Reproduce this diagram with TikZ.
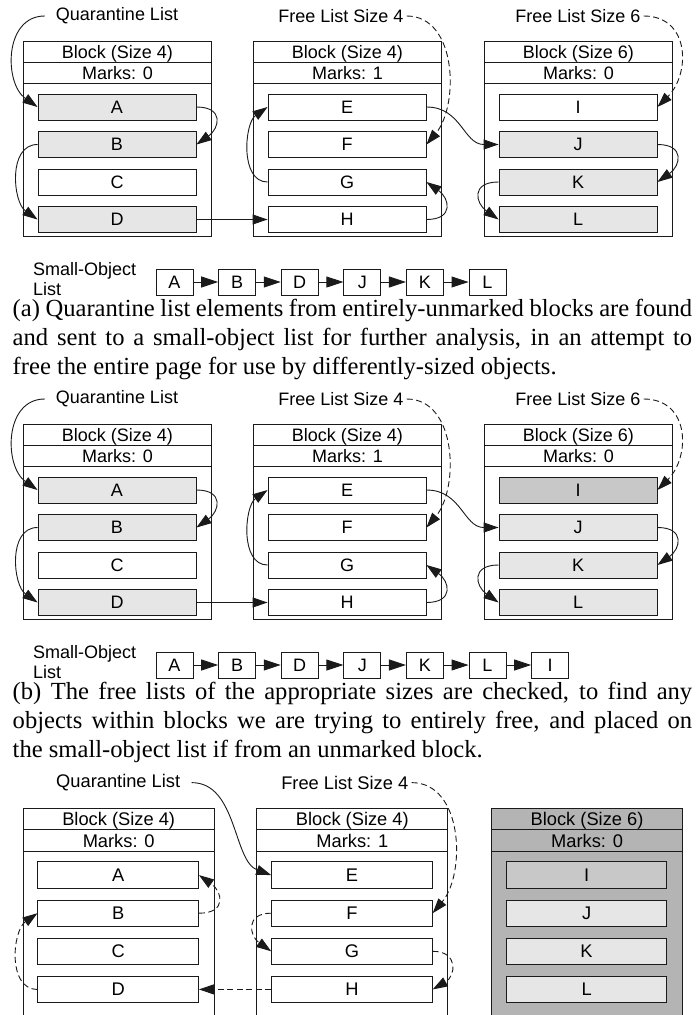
\documentclass[tikz,border=0pt]{standalone}
\usepackage{fontspec}
\newfontfamily\diafont{Liberation Sans}
\newfontfamily\capfont{Liberation Serif}
\usetikzlibrary{arrows.meta}
\definecolor{objgray}{HTML}{E6E6E6}
\definecolor{midgray}{HTML}{C8C8C8}
\definecolor{blkgray}{HTML}{B4B4B4}
\definecolor{ln}{HTML}{1A1A1A}
\tikzset{
 every node/.style={font=\diafont\fontsize{18}{20}\selectfont},
 blockbox/.style={draw=ln, line width=0.9pt, minimum width=188pt, inner sep=0pt, anchor=north west},
 hdrbox/.style={draw=ln, line width=0.9pt, minimum width=188pt, minimum height=21pt, inner sep=0pt, anchor=north west, text height=12.9pt, text depth=0pt},
 objbox/.style={draw=ln, line width=0.9pt, minimum width=158pt, minimum height=26pt, inner sep=0pt, text height=12.9pt, text depth=0pt},
 listbox/.style={draw=ln, line width=0.9pt, fill=white, minimum width=37pt, minimum height=26pt, inner sep=0pt, text height=12.9pt, text depth=0pt},
 lbl/.style={inner xsep=3pt, inner ysep=0pt},
 qlbl/.style={inner xsep=11pt, inner ysep=0pt},
 conn/.style={draw=ln, line width=0.9pt, -{Triangle[length=15pt,width=10pt]}},
 dconn/.style={conn, dash pattern=on 6pt off 3.5pt},
 sconn/.style={draw=ln, line width=0.9pt, -{Triangle[length=17pt,width=11pt]}},
 capline/.style={font=\capfont\fontsize{24.6}{29}\selectfont, inner sep=0pt, anchor=base west},
 sollabel/.style={anchor=west, align=left, inner sep=0pt},
}
\newcommand\blockdraw[6]{%
 \node[blockbox, fill=#5, minimum height=#6] (#1) at (#2,41) {};
 \node[hdrbox, fill=#5] (#1t) at (#2,41) {#3};
 \node[hdrbox, fill=#5] (#1m) at (#2,62) {#4};
}
\newcommand\panelab[2]{%
 \node[qlbl] (#1ql) at (117,16) {Quarantine List};
 \node[lbl] (#1fa) at (341,16) {Free List Size 4};
 \node[lbl] (#1fb) at (578,16) {Free List Size 6};
 \blockdraw{#1ba}{23}{Block (Size 4)}{Marks: 0}{white}{195pt}
 \blockdraw{#1bb}{253}{Block (Size 4)}{Marks: 1}{white}{195pt}
 \blockdraw{#1bc}{484}{Block (Size 6)}{Marks: 0}{white}{195pt}
 \foreach \n/\x/\y/\f in {A/117/107/objgray, B/117/144.5/objgray, C/117/182/white, D/117/219.5/objgray,
   E/347/107/white, F/347/144.5/white, G/347/182/white, H/347/219.5/white,
   I/578/107/#2, J/578/144.5/objgray, K/578/182/objgray, L/578/219.5/objgray}
   \node[objbox, fill=\f] (#1\n) at (\x,\y) {\n};
 \draw[conn] (#1ql.west) to[out=180,in=145,looseness=1.15] (#1A.west);
 \draw[conn] (#1A.east) to[out=0,in=35,distance=28pt] (#1B.east);
 \draw[conn] (#1B.west) to[out=180,in=145,distance=30pt] (#1D.west);
 \draw[conn] (#1D.east) -- (#1H.west);
 \draw[conn] (#1H.east) to[out=0,in=-35,distance=28pt] (#1G.east);
 \draw[conn] (#1G.west) to[out=180,in=215,distance=28pt] (#1E.west);
 \draw[conn] (#1E.east) to[out=0,in=180,looseness=1.1] (#1J.west);
 \draw[dconn] (#1fa.east) to[out=0,in=50] (#1F.east);
 \draw[dconn] (#1fb.east) to[out=0,in=45,looseness=1.3] (#1I.east);
 \draw[conn] (#1J.east) to[out=0,in=35,distance=28pt] (#1K.east);
 \draw[conn] (#1K.west) to[out=180,in=145,distance=28pt] (#1L.west);
}
\begin{document}
\begin{tikzpicture}[x=1pt,y=-1pt]
\useasboundingbox (0,0) rectangle (697,1015);
\fill[white] (0,0) rectangle (697,1015);

% ---------- panel (a)
\panelab{a}{white}
\node[sollabel] (asol) at (33,279.5) {Small-Object\\List};
\foreach \n [count=\i from 0] in {A,B,D,J,K,L}
  \node[listbox] (as\i) at ({174.5+62.6*\i},282) {\n};
\foreach \i [evaluate=\i as \j using int(\i+1)] in {0,...,4}
  \draw[sconn] (as\i.east) -- (as\j.west);
\node[capline] (capa1) at (12.5,316.5) {\makebox[679.5pt][s]{(a) Quarantine list elements from entirely-unmarked blocks are found}};
\node[capline] (capa2) at (12.5,345.5) {\makebox[679.5pt][s]{and sent to a small-object list for further analysis, in an attempt to}};
\node[capline] (capa3) at (12.5,374.5) {free the entire page for use by differently-sized objects.};

% ---------- panel (b)
\begin{scope}[shift={(0,383)}]
\panelab{b}{midgray}
\node[sollabel] (bsol) at (33,279.5) {Small-Object\\List};
\foreach \n [count=\i from 0] in {A,B,D,J,K,L,I}
  \node[listbox] (bs\i) at ({174.5+62.6*\i},282) {\n};
\foreach \i [evaluate=\i as \j using int(\i+1)] in {0,...,5}
  \draw[sconn] (bs\i.east) -- (bs\j.west);
\node[capline] (capb1) at (12.5,316.5) {\makebox[679.5pt][s]{(b) The free lists of the appropriate sizes are checked, to find any}};
\node[capline] (capb2) at (12.5,345.5) {\makebox[679.5pt][s]{objects within blocks we are trying to entirely free, and placed on}};
\node[capline] (capb3) at (12.5,374.5) {the small-object list if from an unmarked block.};
\end{scope}

% ---------- panel (c)
\begin{scope}[shift={(22.7,808)}, scale=1.016, shift={(-23,-41)}, transform shape]
 \node[qlbl] (cql) at (117,16) {Quarantine List};
 \node[lbl] (cfa) at (340,16) {Free List Size 4};
 \blockdraw{cba}{23}{Block (Size 4)}{Marks: 0}{white}{260pt}
 \blockdraw{cbb}{253}{Block (Size 4)}{Marks: 1}{white}{260pt}
 \blockdraw{cbc}{484}{Block (Size 6)}{Marks: 0}{blkgray}{260pt}
 \foreach \n/\x/\y/\f in {A/117/107/white, B/117/144.5/white, C/117/182/white, D/117/219.5/white,
   E/347/107/white, F/347/144.5/white, G/347/182/white, H/347/219.5/white,
   I/578/107/midgray, J/578/144.5/objgray, K/578/182/objgray, L/578/219.5/objgray}
   \node[objbox, fill=\f] (c\n) at (\x,\y) {\n};
 \draw[conn] (cql.east) to[out=0,in=160,out distance=45pt,in distance=40pt] (cE.west);
 \draw[dconn] (cfa.east) to[out=0,in=50] (cF.east);
 \draw[dconn] (cB.east) to[out=0,in=-35,distance=28pt] (cA.east);
 \draw[dconn] (cD.west) to[out=180,in=215,distance=30pt] (cB.west);
 \draw[dconn] (cH.west) -- (cD.east);
 \draw[dconn] (cF.west) to[out=180,in=145,distance=26pt] (cG.west);
 \draw[dconn] (cG.east) to[out=0,in=30,distance=26pt] (cH.east);
\end{scope}
\end{tikzpicture}
\end{document}
